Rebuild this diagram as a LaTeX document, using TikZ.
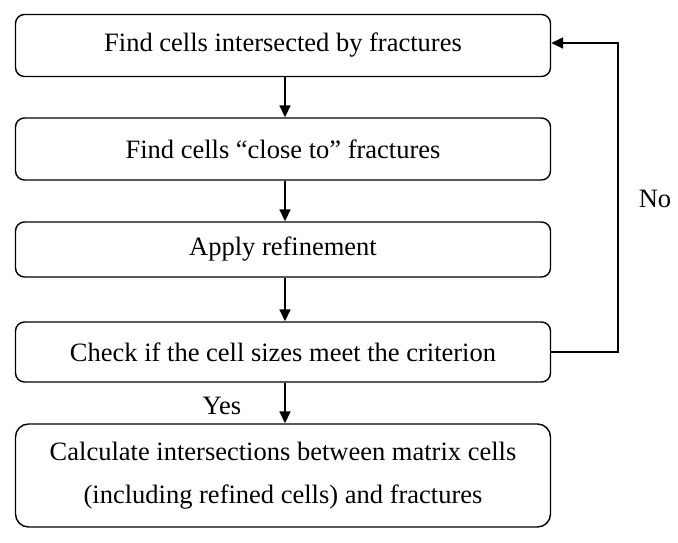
\documentclass[tikz,border=0pt]{standalone}
\usepackage{fontspec}
\setmainfont{Liberation Serif}
\usetikzlibrary{arrows.meta}

\begin{document}
\begin{tikzpicture}[x=1pt, y=-1pt,
    stepbox/.style={draw, line width=1.4pt, rounded corners=9pt, minimum width=535pt, align=center},
    flow/.style={-{Triangle[length=12pt, width=11pt]}, line width=1.6pt}]
    \useasboundingbox (0,0) rectangle (678,543);
    \fontsize{26.5}{43}\selectfont

    \node[stepbox, minimum height=62pt] (find) at (283,45.5) {Find cells intersected by fractures};
    \node[stepbox, minimum height=62pt] (close) at (283,149) {Find cells ``close to'' fractures};
    \node[stepbox, minimum height=55pt] (refine) at (283,249.5) {Apply refinement};
    \node[stepbox, minimum height=60pt] (check) at (283,352) {Check if the cell sizes meet the criterion};
    \node[stepbox, minimum height=103pt, rounded corners=13pt] (calc) at (283,475.5)
        {Calculate intersections between matrix cells\\(including refined cells) and fractures};

    \coordinate (loop) at (618,352);
    \node (no) at (655,199) {No};
    \node (yes) at (222,406) {Yes};

    \draw[flow] (find.south -| 285,0) -- (close.north -| 285,0);
    \draw[flow] (close.south -| 285,0) -- (refine.north -| 285,0);
    \draw[flow] (refine.south -| 285,0) -- (check.north -| 285,0);
    \draw[flow] (check.south -| 285,0) -- (calc.north -| 285,0);
    \draw[flow] (check.east) -- (loop) |- (find.east |- 0,43);
\end{tikzpicture}
\end{document}
